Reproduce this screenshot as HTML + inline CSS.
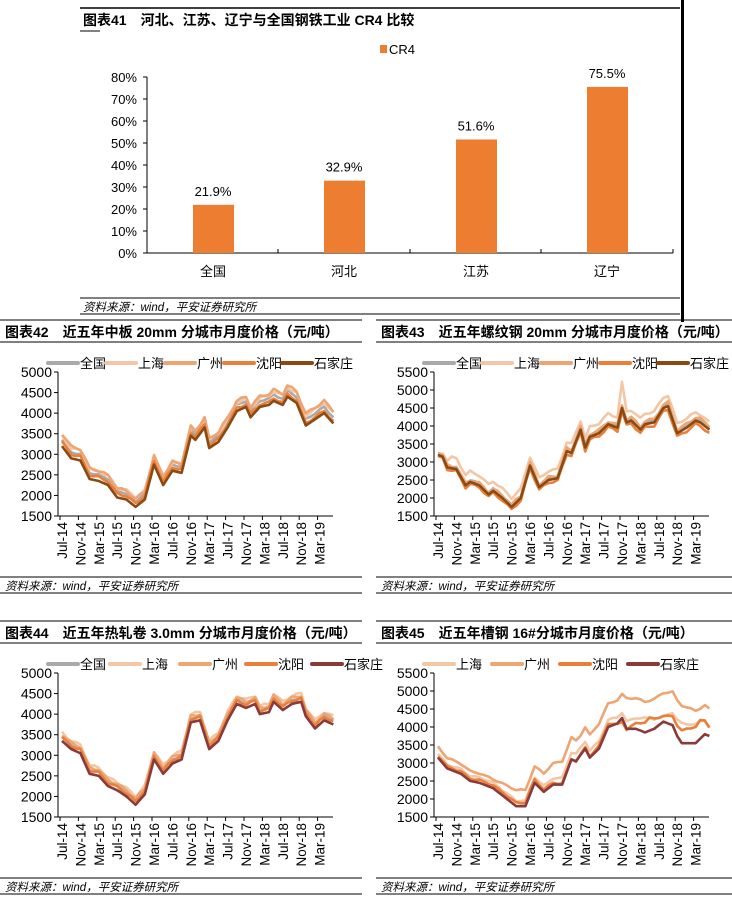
<!DOCTYPE html>
<html><head><meta charset="utf-8"><style>
body{margin:0;background:#fff;width:732px;height:900px;overflow:hidden}
svg{display:block}
text{font-family:"Liberation Sans","Noto Sans CJK SC",sans-serif;fill:#000}
.t{font-weight:bold;font-size:14px}
.s{font-style:italic;font-size:11.5px}
</style></head><body>
<svg id="g" width="732" height="900" xmlns="http://www.w3.org/2000/svg">
<line x1="80" y1="8" x2="680" y2="8" stroke="#000" stroke-width="1.5"/>
<rect x="681" y="0" width="3" height="322" fill="#000"/>
<text x="83" y="25" class="t">图表41　河北、江苏、辽宁与全国钢铁工业 CR4 比较</text>
<line x1="80" y1="31" x2="100" y2="31" stroke="#000"/>
<rect x="380" y="45" width="7" height="8" fill="#ed7d31"/>
<text x="389" y="54" font-size="13">CR4</text>
<g id="topc"></g>
<line x1="80" y1="298" x2="680" y2="298" stroke="#000"/>
<text x="83" y="311" class="s">资料来源：wind，平安证券研究所</text>
<line x1="80" y1="314" x2="680" y2="314" stroke="#000"/>
<g id="charts"></g>
</svg>
<script>
(function(){
var NS="http://www.w3.org/2000/svg";
function el(p,n,a,t){var e=document.createElementNS(NS,n);for(var k in a)e.setAttribute(k,a[k]);if(t!=null)e.textContent=t;p.appendChild(e);return e;}
var tg=document.getElementById('topc');
el(tg,'line',{x1:147,y1:77,x2:147,y2:253,stroke:'#000'});
el(tg,'line',{x1:147,y1:253,x2:673,y2:253,stroke:'#000'});
for(var i=0;i<=8;i++){var y=253-i*22;el(tg,'line',{x1:143,y1:y,x2:147,y2:y,stroke:'#000'});el(tg,'text',{x:137,y:y+5,'text-anchor':'end','font-size':13},i*10+'%');}
[278,410,541,673].forEach(function(x){el(tg,'line',{x1:x,y1:253,x2:x,y2:249,stroke:'#000'});});
var bars=[[213,21.9,'全国'],[344,32.9,'河北'],[476,51.6,'江苏'],[607,75.5,'辽宁']];
bars.forEach(function(b){var h=b[1]*2.2;el(tg,'rect',{x:b[0]-20,y:253-h,width:41,height:h,fill:'#ed7d31'});
el(tg,'text',{x:b[0],y:253-h-9,'text-anchor':'middle','font-size':13},b[1].toFixed(1)+'%');
el(tg,'text',{x:b[0],y:276,'text-anchor':'middle','font-size':13},b[2]);});

function interp(kp,i){var ks=Object.keys(kp).map(Number).sort(function(a,b){return a-b});
if(i<=ks[0])return kp[ks[0]];for(var j=0;j<ks.length-1;j++){if(i<=ks[j+1]){var a=ks[j],b=ks[j+1];return kp[a]+(kp[b]-kp[a])*(i-a)/(b-a);}}return kp[ks[ks.length-1]];}
var C={qg:'#a9a9a9',sh:'#f3c6a5',gz:'#eda574',sy:'#e8803c',sj:'#8a4a14',sjr:'#8b3a3a'};
var months=['Jul-14','Nov-14','Mar-15','Jul-15','Nov-15','Mar-16','Jul-16','Nov-16','Mar-17','Jul-17','Nov-17','Mar-18','Jul-18','Nov-18','Mar-19'];
var G=document.getElementById('charts');
function chart(o){
 var g=el(G,'g',{transform:'translate('+o.dx+','+o.dy+')'});
 el(g,'line',{x1:0,y1:320,x2:362,y2:320,stroke:'#000'});
 el(g,'text',{x:5,y:337,'class':'t'},o.title);
 el(g,'line',{x1:0,y1:342,x2:362,y2:342,stroke:'#000'});
 o.leg.forEach(function(L){el(g,'line',{x1:L[0],y1:363,x2:L[0]+30,y2:363,stroke:L[2],'stroke-width':4,'stroke-linecap':'round'});el(g,'text',{x:L[0]+32,y:368,'font-size':13},L[1]);});
 var x0=58,x1=333,yT=372,yB=516,n=o.ticks;
 el(g,'line',{x1:x0,y1:yT,x2:x0,y2:yB,stroke:'#000'});
 el(g,'line',{x1:x0,y1:yB,x2:x1,y2:yB,stroke:'#000'});
 for(var i=0;i<n;i++){var v=1500+i*500,y=yB-(yB-yT)*i/(n-1);el(g,'line',{x1:x0-4,y1:y,x2:x0,y2:y,stroke:'#000'});el(g,'text',{x:x0-6,y:y+5,'text-anchor':'end','font-size':14},v);}
 var vmax=1500+(n-1)*500;
 function X(i){return 62+i*4.6;}
 function Y(v){return yB-(v-1500)/(vmax-1500)*(yB-yT);}
 for(var m=0;m<=14;m++){var xm=X(m*4);el(g,'line',{x1:xm-2,y1:yB,x2:xm-2,y2:yB+4,stroke:'#000'});
  el(g,'text',{x:0,y:0,transform:'translate('+(xm+5)+','+(yB+6)+') rotate(-90)','text-anchor':'end','font-size':13.5},months[m]);}
 o.series.forEach(function(s,si){var d='';for(var i=0;i<60;i++){var v=interp(o.base,i)+interp(s.off,i)+Math.sin(i*1.7+si*2.3)*s.j;d+=(i?'L':'M')+X(i).toFixed(1)+','+Y(v).toFixed(1);}
  el(g,'path',{d:d,fill:'none',stroke:s.c,'stroke-width':2.6,'stroke-linejoin':'round'});});
 el(g,'line',{x1:0,y1:577,x2:362,y2:577,stroke:'#000'});
 el(g,'text',{x:5,y:590,'class':'s'},'资料来源：wind，平安证券研究所');
 el(g,'line',{x1:0,y1:593,x2:362,y2:593,stroke:'#000'});
}
var leg5=function(c){return [[48,'全国',C.qg],[106,'上海',C.sh],[165,'广州',C.gz],[224,'沈阳',C.sy],[282,'石家庄',c]];};
chart({dx:0,dy:0,title:'图表42　近五年中板 20mm 分城市月度价格（元/吨）',ticks:8,leg:leg5(C.sj),
 base:{0:3200,2:2900,4:2850,6:2400,8:2350,10:2250,12:1950,14:1900,16:1720,18:1900,20:2750,22:2250,24:2600,26:2550,28:3450,29:3350,31:3650,32:3150,34:3300,36:3650,38:4050,40:4150,41:3900,43:4150,45:4200,46:4300,48:4200,49:4400,51:4250,53:3700,55:3850,57:4000,59:3750},
 series:[{c:C.qg,off:{0:150,59:150},j:20},{c:C.sh,off:{0:250,30:200,59:250},j:30},{c:C.gz,off:{0:300,16:200,40:250,59:300},j:30},{c:C.sy,off:{0:100,59:50},j:25},{c:C.sj,off:{0:0},j:0}]});
chart({dx:376,dy:0,title:'图表43　近五年螺纹钢 20mm 分城市月度价格（元/吨）',ticks:9,leg:leg5(C.sj),
 base:{0:3200,1:3150,2:2850,4:2800,6:2350,7:2450,9:2350,11:2100,12:2200,14:2000,16:1750,18:2000,20:2900,22:2300,24:2500,26:2550,28:3300,29:3250,31:3900,32:3400,33:3700,35:3800,37:4050,39:3950,40:4500,41:4100,42:4150,44:3900,45:4050,47:4100,49:4500,50:4550,52:3800,54:3950,56:4150,57:4100,59:3900},
 series:[{c:C.qg,off:{0:50,59:50},j:20},{c:C.sh,off:{0:0,3:300,16:250,30:250,39:300,40:700,41:300,50:300,59:200},j:30},{c:C.gz,off:{0:50,59:100},j:40},{c:C.sy,off:{0:-50,59:-100},j:30},{c:C.sj,off:{0:0},j:0}]});
chart({dx:0,dy:301,title:'图表44　近五年热轧卷 3.0mm 分城市月度价格（元/吨）',ticks:8,leg:[[48,'全国',C.qg],[110,'上海',C.sh],[180,'广州',C.gz],[246,'沈阳',C.sy],[312,'石家庄',C.sjr]],
 base:{0:3400,2:3200,4:3100,6:2600,8:2550,10:2300,12:2200,14:2050,16:1850,18:2100,20:2950,22:2600,24:2850,26:2950,28:3850,30:3900,32:3200,34:3400,36:3900,38:4300,40:4200,42:4300,43:4050,45:4100,46:4350,48:4150,50:4300,52:4350,53:4000,55:3700,57:3900,59:3800},
 series:[{c:C.qg,off:{0:50,59:50},j:20},{c:C.sh,off:{0:150,59:150},j:30},{c:C.gz,off:{0:100,59:100},j:30},{c:C.sy,off:{0:30,59:30},j:25},{c:C.sjr,off:{0:-50},j:0}]});
chart({dx:376,dy:301,title:'图表45　近五年槽钢 16#分城市月度价格（元/吨）',ticks:9,leg:[[48,'上海',C.sh],[116,'广州',C.gz],[184,'沈阳',C.sy],[252,'石家庄',C.sjr]],
 base:{0:3150,2:2850,5:2700,7:2500,9:2450,12:2300,14:2100,16:1900,17:1800,19:1800,21:2450,23:2200,25:2400,27:2400,29:3100,30:3050,32:3400,33:3150,35:3400,37:4000,39:4100,40:4250,41:3950,43:3950,45:3850,47:3950,49:4150,51:4050,52:3750,53:3550,56:3550,58:3800,59:3750},
 series:[{c:C.sh,off:{0:100,10:150,20:150,30:200,37:200,40:150,45:400,49:150,53:550,57:500,59:250},j:20},{c:C.gz,off:{0:300,12:250,17:450,21:450,27:650,31:550,35:700,37:650,40:650,41:850,45:850,49:800,53:1050,58:800,59:750},j:20},{c:C.sy,off:{0:50,20:100,30:0,37:100,40:-100,43:150,46:350,49:150,53:350,57:500,59:250},j:20},{c:C.sjr,off:{0:0},j:0}]});
})();
</script>
</body></html>
